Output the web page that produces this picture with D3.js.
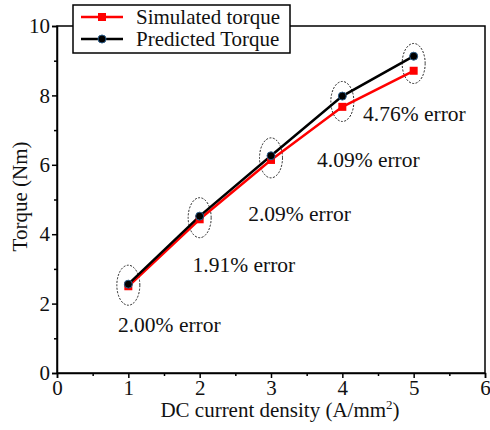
<!DOCTYPE html>
<html>
<head>
<meta charset="utf-8">
<script src="https://cdn.jsdelivr.net/npm/d3@7"></script>
<style>
  body { margin: 0; background: #fff; }
</style>
</head>
<body>
<svg></svg>
<script>
const size = {w: 490, h: 430};
const margin = {t: 26, r: 5, b: 57, l: 57};
const serif = 'Liberation Serif';

// values
const density = [1, 2, 3, 4, 5];
const simulated = [2.5, 4.43, 6.14, 7.67, 8.71];
const predicted = [2.56, 4.52, 6.26, 7.98, 9.13];
const errorLabels = ['2.00% error', '1.91% error', '2.09% error', '4.09% error', '4.76% error'];
// label anchor (x in density units, y in torque units)
const labelX = [0.855, 1.9, 2.68, 3.645, 4.29];
const labelY = [1.18, 2.91, 4.38, 5.94, 7.26];

const xTicks = [0, 1, 2, 3, 4, 5, 6];
const yTicks = [0, 2, 4, 6, 8, 10];

const svg = d3.select('svg')
    .attr('width', size.w)
    .attr('height', size.h);

const x = d3.scaleLinear().domain([0, 6]).range([margin.l, size.w - margin.r]);
const y = d3.scaleLinear().domain([0, 10]).range([size.h - margin.b, margin.t]);

// frame
svg.append('rect')
    .attr('x', x(0)).attr('y', y(10))
    .attr('width', x(6) - x(0)).attr('height', y(0) - y(10))
    .attr('fill', 'none').attr('stroke', '#000').attr('stroke-width', 1.5);

// axes with major + minor ticks
svg.append('g')
    .attr('transform', 'translate(0,' + y(0) + ')')
    .call(d3.axisBottom(x).tickValues(xTicks).tickFormat(d3.format('d')).tickSize(5).tickPadding(2));
svg.append('g')
    .attr('transform', 'translate(0,' + y(0) + ')')
    .call(d3.axisBottom(x).tickValues(d3.range(0.5, 6, 1)).tickFormat('').tickSize(3))
    .select('.domain').remove();

svg.append('g')
    .attr('transform', 'translate(' + x(0) + ',0)')
    .call(d3.axisLeft(y).tickValues(yTicks).tickFormat(d3.format('d')).tickSize(5).tickPadding(2));
svg.append('g')
    .attr('transform', 'translate(' + x(0) + ',0)')
    .call(d3.axisLeft(y).tickValues(d3.range(1, 10, 2)).tickFormat('').tickSize(3))
    .select('.domain').remove();

svg.selectAll('.tick line').attr('stroke-width', 1.5);
svg.selectAll('.domain').attr('stroke-width', 1.5);
svg.selectAll('.tick text')
    .attr('font-family', serif)
    .attr('font-size', 21)
    .attr('fill', '#111');

// axis titles
svg.append('text')
    .attr('x', 280)
    .attr('y', 417)
    .attr('text-anchor', 'middle')
    .attr('font-family', serif)
    .attr('font-size', 21)
    .attr('fill', '#111')
    .html('DC current density (A/mm<tspan dy="-8" font-size="13">2</tspan><tspan dy="8">)</tspan>');

svg.append('text')
    .attr('transform', 'translate(27,' + (y(5) - 3) + ') rotate(-90)')
    .attr('text-anchor', 'middle')
    .attr('font-family', serif)
    .attr('font-size', 21)
    .attr('fill', '#111')
    .text('Torque (Nm)');

// dashed ellipses around each pair of points
svg.append('g').selectAll('ellipse')
    .data(density)
    .enter()
    .append('ellipse')
    .attr('cx', d => x(d))
    .attr('cy', (d, i) => y((simulated[i] + predicted[i]) / 2))
    .attr('rx', 11.5)
    .attr('ry', 20)
    .attr('fill', 'none')
    .attr('stroke', '#222')
    .attr('stroke-width', 1)
    .attr('stroke-dasharray', '2,1.5');

const line = d3.line().x((d, i) => x(density[i])).y(d => y(d));

svg.append('path')
    .datum(simulated)
    .attr('d', line)
    .attr('fill', 'none')
    .attr('stroke', '#ff0000')
    .attr('stroke-width', 2.5);

svg.append('path')
    .datum(predicted)
    .attr('d', line)
    .attr('fill', 'none')
    .attr('stroke', '#000')
    .attr('stroke-width', 2.5);

svg.append('g').selectAll('rect')
    .data(simulated)
    .enter()
    .append('rect')
    .attr('x', (d, i) => x(density[i]) - 4)
    .attr('y', d => y(d) - 4)
    .attr('width', 8).attr('height', 8)
    .attr('fill', '#ff0000');

svg.append('g').selectAll('circle')
    .data(predicted)
    .enter()
    .append('circle')
    .attr('cx', (d, i) => x(density[i]))
    .attr('cy', d => y(d))
    .attr('r', 4)
    .attr('fill', '#000')
    .attr('stroke', '#2b5d8a')
    .attr('stroke-width', 1);

// error labels
svg.append('g').selectAll('text')
    .data(errorLabels)
    .enter()
    .append('text')
    .attr('x', (d, i) => x(labelX[i]))
    .attr('y', (d, i) => y(labelY[i]))
    .attr('font-family', serif)
    .attr('font-size', 21.5)
    .attr('fill', '#111')
    .text(d => d);

// legend
const legend = svg.append('g').attr('transform', 'translate(73,5)');
legend.append('rect')
    .attr('width', 217).attr('height', 48)
    .attr('fill', '#fff').attr('stroke', '#000').attr('stroke-width', 1.5);

const legendItems = [
    {name: 'Simulated torque', color: '#ff0000', shape: 'square'},
    {name: 'Predicted Torque', color: '#000', shape: 'circle'}
];
legendItems.forEach(function (item, i) {
    let row = legend.append('g').attr('transform', 'translate(0,' + (12 + i * 22) + ')');
    row.append('line')
        .attr('x1', 8).attr('x2', 50)
        .attr('stroke', item.color).attr('stroke-width', 2.5);
    if (item.shape === 'square') {
        row.append('rect').attr('x', 25).attr('y', -4).attr('width', 8).attr('height', 8).attr('fill', item.color);
    } else {
        row.append('circle').attr('cx', 29).attr('r', 4).attr('fill', '#000')
            .attr('stroke', '#2b5d8a').attr('stroke-width', 1);
    }
    row.append('text')
        .attr('x', 63).attr('y', 7)
        .attr('font-family', serif)
        .attr('font-size', 21)
        .attr('fill', '#111')
        .text(item.name);
});
</script>
</body>
</html>
